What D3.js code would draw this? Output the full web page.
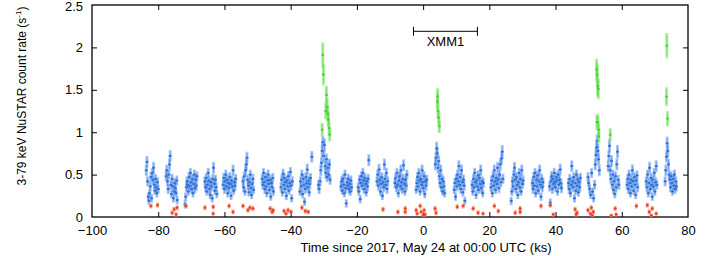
<!DOCTYPE html>
<html><head><meta charset="utf-8">
<script src="https://cdn.jsdelivr.net/npm/d3@7"></script>
<style>
html,body{margin:0;padding:0;background:#fff;}
svg{display:block;font-family:"Liberation Sans",Arial,sans-serif;}
</style></head>
<body><svg id="c" width="709" height="256"></svg>
<script>
// ---- data: [time (ks), rate (s^-1), error] ----
const xTicks = [-100,-80,-60,-40,-20,0,20,40,60,80];
const yTicks = [0,0.5,1,1.5,2,2.5];
const xmmInterval = [-2.9, 16.4];
const xmmLabel = "XMM1";
const xmmLevel = 2.19;

const blue = [
[-83.6,0.55,.07],[-83.4,0.65,.07],[-83.2,0.42,.06],[-83.0,0.24,.05],[-82.8,0.19,.05],[-82.6,0.28,.05],[-82.4,0.36,.06],[-82.2,0.47,.06],[-82.0,0.22,.05],[-81.8,0.52,.06],[-81.6,0.44,.06],[-81.4,0.58,.07],[-81.2,0.38,.06],[-81.0,0.31,.05],[-80.8,0.45,.06],[-80.6,0.35,.06],[-80.4,0.28,.05],[-80.2,0.41,.06],[-80.0,0.33,.05],
[-77.6,0.48,.06],[-77.4,0.55,.07],[-77.2,0.42,.06],[-77.0,0.33,.06],[-76.8,0.5,.06],[-76.6,0.62,.07],[-76.4,0.72,.07],[-76.2,0.38,.06],[-76.0,0.27,.05],[-75.8,0.45,.06],[-75.6,0.36,.06],[-75.4,0.22,.05],[-75.2,0.3,.05],[-75.0,0.4,.06],[-74.8,0.34,.06],[-74.6,0.28,.05],[-74.4,0.43,.06],[-74.3,0.2,.05],
[-71.9,0.15,.05],[-71.7,0.24,.05],[-71.5,0.35,.06],[-71.3,0.42,.06],[-71.1,0.38,.06],[-70.9,0.3,.05],[-70.7,0.47,.06],[-70.5,0.36,.06],[-70.3,0.52,.06],[-70.1,0.41,.06],[-69.9,0.33,.06],[-69.7,0.45,.06],[-69.5,0.28,.05],[-69.3,0.39,.06],[-69.1,0.5,.06],[-68.9,0.34,.06],[-68.7,0.44,.06],[-68.5,0.37,.06],[-68.3,0.48,.06],
[-65.9,0.42,.06],[-65.7,0.35,.06],[-65.5,0.46,.06],[-65.3,0.3,.05],[-65.1,0.38,.06],[-64.9,0.52,.06],[-64.7,0.43,.06],[-64.5,0.33,.06],[-64.3,0.26,.05],[-64.1,0.41,.06],[-63.9,0.36,.06],[-63.7,0.22,.05],[-63.5,0.45,.06],[-63.3,0.58,.07],[-63.1,0.39,.06],[-62.9,0.31,.05],[-62.7,0.44,.06],[-62.5,0.35,.06],[-62.3,0.27,.05],
[-60.4,0.38,.06],[-60.2,0.46,.06],[-60.0,0.33,.06],[-59.8,0.42,.06],[-59.6,0.5,.06],[-59.4,0.36,.06],[-59.2,0.44,.06],[-59.0,0.28,.05],[-58.8,0.4,.06],[-58.6,0.34,.06],[-58.4,0.47,.06],[-58.2,0.39,.06],[-58.0,0.25,.05],[-57.8,0.43,.06],[-57.6,0.36,.06],[-57.4,0.55,.07],[-57.2,0.31,.05],[-57.0,0.41,.06],[-56.8,0.37,.06],[-56.6,0.45,.06],
[-54.4,0.42,.06],[-54.2,0.35,.06],[-54.0,0.48,.06],[-53.8,0.3,.05],[-53.6,0.55,.07],[-53.4,0.62,.07],[-53.2,0.7,.07],[-53.0,0.44,.06],[-52.8,0.37,.06],[-52.6,0.29,.05],[-52.4,0.41,.06],[-52.2,0.5,.06],[-52.0,0.34,.06],[-51.8,0.26,.05],[-51.6,0.39,.06],[-51.4,0.45,.06],[-51.2,0.32,.05],
[-48.6,0.45,.06],[-48.4,0.38,.06],[-48.2,0.52,.06],[-48.0,0.41,.06],[-47.8,0.33,.06],[-47.6,0.47,.06],[-47.4,0.36,.06],[-47.2,0.28,.05],[-47.0,0.43,.06],[-46.8,0.5,.06],[-46.6,0.39,.06],[-46.4,0.32,.05],[-46.2,0.44,.06],[-46.0,0.24,.05],[-45.8,0.4,.06],[-45.6,0.35,.06],[-45.4,0.46,.06],[-45.2,0.3,.05],
[-42.9,0.35,.06],[-42.7,0.44,.06],[-42.5,0.29,.05],[-42.3,0.51,.06],[-42.1,0.38,.06],[-41.9,0.46,.06],[-41.7,0.33,.06],[-41.5,0.41,.06],[-41.3,0.25,.05],[-41.1,0.43,.06],[-40.9,0.36,.06],[-40.7,0.48,.06],[-40.5,0.31,.05],[-40.3,0.4,.06],[-40.1,0.53,.06],[-39.9,0.37,.06],[-39.7,0.22,.05],[-39.5,0.42,.06],
[-37.2,0.3,.05],[-37.0,0.42,.06],[-36.8,0.36,.06],[-36.6,0.5,.06],[-36.4,0.27,.05],[-36.2,0.45,.06],[-36.0,0.38,.06],[-35.8,0.18,.05],[-35.6,0.33,.06],[-35.4,0.47,.06],[-35.2,0.4,.06],[-35.0,0.56,.07],[-34.8,0.35,.06],[-34.6,0.43,.06],[-34.4,0.29,.05],[-34.2,0.39,.06],[-34.0,0.46,.06],[-33.6,0.71,.07],
[-31.6,0.38,.06],[-31.4,0.33,.06],[-31.1,0.42,.06],[-30.9,0.55,.07],[-30.7,0.64,.07],[-30.5,0.78,.08],[-30.3,0.88,.08],[-30.0,0.72,.08],[-29.8,0.85,.08],[-29.6,0.6,.07],[-29.4,0.52,.07],[-29.2,0.68,.07],[-29.0,0.47,.06],[-28.8,0.58,.07],[-28.5,0.5,.06],[-28.3,0.62,.07],[-28.1,0.44,.06],
[-24.8,0.36,.06],[-24.6,0.42,.06],[-24.4,0.31,.05],[-24.2,0.45,.06],[-24.0,0.38,.06],[-23.8,0.28,.05],[-23.6,0.5,.06],[-23.4,0.34,.06],[-23.2,0.16,.05],[-23.0,0.41,.06],[-22.8,0.37,.06],[-22.6,0.45,.06],[-22.4,0.33,.06],[-22.2,0.39,.06],[-22.0,0.3,.05],[-21.8,0.43,.06],[-21.6,0.35,.06],
[-19.6,0.35,.06],[-19.4,0.3,.05],[-19.2,0.44,.06],[-19.0,0.21,.05],[-18.8,0.4,.06],[-18.6,0.48,.06],[-18.4,0.37,.06],[-18.2,0.52,.06],[-18.0,0.43,.06],[-17.8,0.33,.06],[-17.6,0.46,.06],[-17.4,0.39,.06],[-17.2,0.29,.05],[-17.0,0.42,.06],[-16.8,0.36,.06],[-16.6,0.45,.06],[-16.4,0.67,.07],
[-13.9,0.42,.06],[-13.7,0.5,.06],[-13.5,0.37,.06],[-13.3,0.56,.07],[-13.1,0.44,.06],[-12.9,0.3,.05],[-12.7,0.39,.06],[-12.5,0.47,.06],[-12.3,0.25,.05],[-12.1,0.41,.06],[-11.9,0.35,.06],[-11.7,0.62,.07],[-11.5,0.45,.06],[-11.3,0.38,.06],[-11.1,0.52,.06],[-10.9,0.33,.06],[-10.7,0.42,.06],
[-8.5,0.4,.06],[-8.3,0.46,.06],[-8.1,0.35,.06],[-7.9,0.52,.06],[-7.7,0.38,.06],[-7.5,0.28,.05],[-7.3,0.43,.06],[-7.1,0.48,.06],[-6.9,0.36,.06],[-6.7,0.55,.07],[-6.5,0.41,.06],[-6.3,0.33,.06],[-6.1,0.45,.06],[-5.9,0.61,.07],[-5.7,0.39,.06],[-5.5,0.3,.05],[-5.3,0.44,.06],[-5.1,0.37,.06],[-4.9,0.5,.06],
[-2.1,0.32,.05],[-1.9,0.4,.06],[-1.7,0.47,.06],[-1.5,0.36,.06],[-1.3,0.52,.06],[-1.1,0.43,.06],[-0.9,0.3,.05],[-0.7,0.45,.06],[-0.5,0.38,.06],[-0.3,0.55,.07],[-0.1,0.41,.06],[0.1,0.34,.06],[0.3,0.48,.06],[0.5,0.27,.05],[0.7,0.42,.06],[0.9,0.37,.06],[1.1,0.44,.06],
[3.7,0.62,.07],[3.9,0.7,.07],[4.1,0.81,.08],[4.3,0.75,.07],[4.5,0.58,.07],[4.7,0.66,.07],[4.9,0.48,.06],[5.1,0.4,.06],[5.3,0.55,.07],[5.5,0.35,.06],[5.7,0.45,.06],[5.9,0.3,.05],[6.1,0.42,.06],[6.3,0.36,.06],[6.5,0.28,.05],
[9.4,0.32,.05],[9.6,0.4,.06],[9.8,0.24,.05],[10.0,0.45,.06],[10.2,0.36,.06],[10.4,0.5,.06],[10.6,0.42,.06],[10.8,0.6,.07],[11.0,0.38,.06],[11.2,0.47,.06],[11.4,0.33,.06],[11.6,0.55,.07],[11.8,0.41,.06],[12.0,0.29,.05],[12.2,0.44,.06],[12.4,0.37,.06],[12.6,0.19,.05],
[14.8,0.38,.06],[15.0,0.3,.05],[15.2,0.45,.06],[15.4,0.35,.06],[15.6,0.52,.06],[15.8,0.41,.06],[16.0,0.26,.05],[16.2,0.43,.06],[16.4,0.36,.06],[16.6,0.49,.06],[16.8,0.32,.05],[17.0,0.46,.06],[17.2,0.39,.06],[17.4,0.55,.07],[17.6,0.34,.06],[17.8,0.42,.06],[18.0,0.28,.05],[18.2,0.4,.06],
[20.5,0.35,.06],[20.7,0.43,.06],[20.9,0.28,.05],[21.1,0.48,.06],[21.3,0.37,.06],[21.5,0.55,.07],[21.7,0.42,.06],[21.9,0.32,.05],[22.1,0.46,.06],[22.3,0.39,.06],[22.5,0.58,.07],[22.7,0.44,.06],[22.9,0.34,.06],[23.1,0.5,.06],[23.3,0.62,.07],[23.5,0.41,.06],[23.7,0.69,.07],[23.9,0.77,.08],[24.1,0.45,.06],
[26.6,0.19,.05],[26.8,0.3,.05],[27.0,0.42,.06],[27.2,0.36,.06],[27.4,0.5,.06],[27.6,0.58,.07],[27.8,0.44,.06],[28.0,0.33,.06],[28.2,0.47,.06],[28.4,0.38,.06],[28.6,0.26,.05],[28.8,0.41,.06],[29.0,0.52,.06],[29.2,0.35,.06],[29.4,0.45,.06],[29.6,0.3,.05],[29.8,0.55,.07],[30.0,0.39,.06],[30.2,0.43,.06],
[33.0,0.4,.06],[33.2,0.33,.06],[33.4,0.47,.06],[33.6,0.37,.06],[33.8,0.52,.06],[34.0,0.28,.05],[34.2,0.44,.06],[34.4,0.36,.06],[34.6,0.49,.06],[34.8,0.31,.05],[35.0,0.42,.06],[35.2,0.55,.07],[35.4,0.38,.06],[35.6,0.24,.05],[35.8,0.45,.06],[36.0,0.35,.06],[36.2,0.41,.06],
[38.2,0.36,.06],[38.4,0.17,.05],[38.6,0.42,.06],[38.8,0.48,.06],[39.0,0.33,.06],[39.2,0.45,.06],[39.4,0.39,.06],[39.6,0.52,.06],[39.8,0.41,.06],[40.0,0.35,.06],[40.2,0.47,.06],[40.4,0.43,.06],[40.6,0.3,.05],[40.8,0.5,.06],[41.0,0.38,.06],[41.2,0.44,.06],[41.4,0.56,.07],[41.6,0.4,.06],[41.8,0.34,.06],
[43.9,0.4,.06],[44.1,0.33,.06],[44.3,0.45,.06],[44.5,0.28,.05],[44.7,0.38,.06],[44.9,0.6,.07],[45.1,0.42,.06],[45.3,0.35,.06],[45.5,0.47,.06],[45.7,0.22,.05],[45.9,0.4,.06],[46.1,0.31,.05],[46.3,0.5,.06],[46.5,0.37,.06],[46.7,0.44,.06],[46.9,0.29,.05],[47.1,0.41,.06],[47.3,0.35,.06],[47.5,0.46,.06],
[49.8,0.47,.06],[50.0,0.4,.06],[50.3,0.33,.06],[50.6,0.26,.05],[50.9,0.52,.06],[51.2,0.3,.05],[51.5,0.22,.05],[51.8,0.38,.06],[52.0,0.62,.07],[52.2,0.73,.08],[52.4,0.82,.08],[52.6,0.9,.08],[52.8,0.78,.08],[53.0,0.68,.07],[53.2,0.55,.07],
[55.9,0.6,.07],[56.1,0.72,.07],[56.3,0.84,.08],[56.5,0.55,.07],[56.7,0.45,.06],[56.9,0.66,.07],[57.1,0.38,.06],[57.3,0.5,.06],[57.5,0.32,.05],[57.7,0.42,.06],[57.9,0.27,.05],[58.1,0.48,.06],[58.3,0.35,.06],[58.5,0.62,.07],[58.7,0.77,.08],[58.9,0.44,.06],[59.1,0.38,.06],
[61.6,0.38,.06],[61.8,0.45,.06],[62.0,0.33,.06],[62.2,0.5,.06],[62.4,0.4,.06],[62.6,0.28,.05],[62.8,0.44,.06],[63.0,0.36,.06],[63.2,0.55,.07],[63.4,0.42,.06],[63.6,0.31,.05],[63.8,0.47,.06],[64.0,0.38,.06],[64.2,0.26,.05],[64.4,0.43,.06],[64.6,0.49,.06],[64.8,0.35,.06],
[67.4,0.42,.06],[67.6,0.35,.06],[67.8,0.5,.06],[68.0,0.28,.05],[68.2,0.4,.06],[68.4,0.58,.07],[68.6,0.33,.06],[68.8,0.46,.06],[69.0,0.38,.06],[69.2,0.24,.05],[69.4,0.44,.06],[69.6,0.36,.06],[69.8,0.52,.06],[70.0,0.3,.05],[70.2,0.41,.06],[70.4,0.6,.07],[70.6,0.38,.06],
[73.1,0.42,.06],[73.3,0.55,.07],[73.5,0.71,.07],[73.7,0.87,.08],[73.9,0.78,.08],[74.1,0.62,.07],[74.3,0.5,.06],[74.5,0.44,.06],[74.7,0.35,.06],[74.9,0.48,.06],[75.1,0.4,.06],[75.3,0.3,.05],[75.5,0.45,.06],[75.7,0.37,.06],[75.9,0.5,.06],[76.1,0.33,.06],[76.3,0.42,.06],[76.5,0.36,.06]
];

const red = [
[-82.2,0.13,.03],[-80.2,0.14,.03],[-75.8,0.05,.03],[-75.2,0.09,.03],[-74.6,0.03,.025],[-74.3,0.11,.03],[-71.6,0.13,.03],
[-65.9,0.11,.03],[-63.4,0.12,.03],[-63.4,0.04,.025],[-58.6,0.13,.03],[-57.4,0.06,.03],[-54.4,0.13,.03],[-52.9,0.08,.03],
[-52.3,0.11,.03],[-51.4,0.1,.03],[-46.2,0.1,.03],[-45.6,0.06,.03],[-45.3,0.08,.03],[-42.0,0.07,.03],[-41.4,0.04,.025],
[-40.8,0.08,.03],[-39.9,0.06,.03],[-36.6,0.11,.03],[-35.6,0.07,.03],[-34.7,0.06,.03],
[-12.1,0.09,.03],[-7.6,0.06,.03],[-5.4,0.1,.03],[-5.4,0.06,.03],[-2.1,0.08,.03],[-1.8,0.04,.025],[-0.9,0.13,.03],
[-0.6,0.06,.03],[0.0,0.02,.02],[0.3,0.08,.03],[0.6,0.03,.025],[3.6,0.1,.03],[3.9,0.05,.03],[10.3,0.12,.03],[12.1,0.13,.03],
[15.1,0.1,.03],[16.6,0.05,.03],[18.1,0.04,.025],[21.5,0.13,.03],[22.7,0.07,.03],[27.8,0.05,.03],[29.3,0.1,.03],[29.3,0.06,.03],
[35.6,0.13,.03],[38.4,0.14,.03],[39.3,0.03,.025],[45.9,0.09,.03],[46.5,0.05,.03],[46.2,0.03,.025],[49.8,0.08,.03],[50.5,0.04,.025],
[50.8,0.11,.03],[51.1,0.02,.02],[51.4,0.06,.03],[56.8,0.02,.02],[58.0,0.1,.03],[58.3,0.03,.025],[64.4,0.13,.03],
[67.7,0.14,.03],[68.3,0.06,.03],[68.9,0.02,.02],[69.2,0.1,.03],[70.4,0.04,.025]
];

const green = [
[-30.5,1.03,.08],[-30.3,1.91,.15],[-30.1,1.68,.13],[-29.4,1.25,.1],[-29.2,1.44,.11],[-29.0,1.3,.1],[-28.8,1.22,.1],
[-28.6,1.15,.09],[-28.4,1.05,.09],[-28.2,0.97,.08],
[4.3,1.36,.1],[4.4,1.42,.1],[4.5,1.25,.09],[4.7,1.17,.09],[4.9,1.07,.08],
[52.4,1.74,.13],[52.6,1.68,.13],[52.7,1.54,.12],[52.9,1.51,.12],[52.5,1.12,.09],[52.8,1.12,.09],[53.0,1.03,.08],[53.1,0.95,.08],
[56.5,0.97,.08],
[73.6,2.02,.15],[73.5,1.42,.11],[73.8,1.16,.09]
];

// ---- layout ----
const M = {l:92, r:688, t:5, b:217};
const svg = d3.select("#c");
const x = d3.scaleLinear().domain([-100,80]).range([M.l, M.r]);
const y = d3.scaleLinear().domain([0,2.5]).range([M.b, M.t]);
const TL = 5;

const gx = svg.append("g").attr("transform",`translate(0,${M.b})`)
  .call(d3.axisBottom(x).tickValues(xTicks).tickSize(-TL).tickPadding(9).tickFormat(d3.format("d")));
const gxt = svg.append("g").attr("transform",`translate(0,${M.t})`)
  .call(d3.axisTop(x).tickValues(xTicks).tickSize(-TL).tickFormat(""));
const gy = svg.append("g").attr("transform",`translate(${M.l},0)`)
  .call(d3.axisLeft(y).tickValues(yTicks).tickSize(-TL).tickPadding(9).tickFormat(d=>String(d)));
const gyr = svg.append("g").attr("transform",`translate(${M.r},0)`)
  .call(d3.axisRight(y).tickValues(yTicks).tickSize(-TL).tickFormat(""));
[gx,gxt,gy,gyr].forEach(g=>{
  g.select(".domain").remove();
  g.selectAll(".tick line").attr("stroke","#000").attr("stroke-width",1);
  g.selectAll("text").attr("fill","#000").style("font-size","13px").style("font-family","'Liberation Sans',Arial,sans-serif");
});
gy.selectAll(".tick").filter(d=>d===2.5).select("text").attr("dy","0.42em");
gx.selectAll(".tick").filter(d=>d===-100||d===80).select("line").remove();
gxt.selectAll(".tick").filter(d=>d===-100||d===80).select("line").remove();
gy.selectAll(".tick").filter(d=>d===0||d===2.5).select("line").remove();
gyr.selectAll(".tick").filter(d=>d===0||d===2.5).select("line").remove();

svg.append("rect").attr("x",M.l).attr("y",M.t).attr("width",M.r-M.l).attr("height",M.b-M.t)
  .attr("fill","none").attr("stroke","#000").attr("stroke-width",1.3);

function drawSeries(data, dark, light, hw){
  const g = svg.append("g");
  g.selectAll("line.v").data(data).join("line")
    .attr("x1",d=>x(d[0])).attr("x2",d=>x(d[0]))
    .attr("y1",d=>y(d[1]-d[2])).attr("y2",d=>y(d[1]+d[2]))
    .attr("stroke",light).attr("stroke-width",3).attr("stroke-opacity",0.7);
  g.selectAll("line.c").data(data).join("line")
    .attr("x1",d=>x(d[0])).attr("x2",d=>x(d[0]))
    .attr("y1",d=>y(d[1]-d[2]*0.8)).attr("y2",d=>y(d[1]+d[2]*0.8))
    .attr("stroke",dark).attr("stroke-width",0.8).attr("stroke-opacity",0.6);
  g.selectAll("line.h").data(data).join("line")
    .attr("x1",d=>x(d[0]-hw)).attr("x2",d=>x(d[0]+hw))
    .attr("y1",d=>y(d[1])).attr("y2",d=>y(d[1]))
    .attr("stroke",dark).attr("stroke-width",1.2);
  g.selectAll("rect").data(data).join("rect")
    .attr("x",d=>x(d[0])-1).attr("y",d=>y(d[1])-1).attr("width",2).attr("height",2)
    .attr("fill",dark);
}
drawSeries(blue, "#2a6fdc", "#8db4ee", 0.45);
drawSeries(red, "#ee3e1e", "#f4917a", 0.45);
drawSeries(green, "#3fd42a", "#8fe87c", 0.35);

const xm = svg.append("g");
xm.append("line").attr("x1",x(xmmInterval[0])).attr("x2",x(xmmInterval[1]))
  .attr("y1",y(xmmLevel)).attr("y2",y(xmmLevel)).attr("stroke","#000").attr("stroke-width",1);
xmmInterval.forEach(v=>{
  xm.append("line").attr("x1",x(v)).attr("x2",x(v))
    .attr("y1",y(xmmLevel)-4.5).attr("y2",y(xmmLevel)+4.5).attr("stroke","#000").attr("stroke-width",1);
});
xm.append("text").attr("x",x((xmmInterval[0]+xmmInterval[1])/2)).attr("y",y(xmmLevel)+15)
  .attr("text-anchor","middle").style("font-size","13px").text(xmmLabel);

svg.append("text").attr("x",426).attr("y",252).attr("text-anchor","middle")
  .style("font-size","13px").text("Time since 2017, May 24 at 00:00 UTC (ks)");
const yt = svg.append("text").attr("transform","translate(26,96) rotate(-90)")
  .attr("text-anchor","middle").style("font-size","12px");
yt.append("tspan").text("3-79 keV NuSTAR count rate (s");
yt.append("tspan").attr("dy",-5).style("font-size","8px").text("-1");
yt.append("tspan").attr("dy",5).text(")");
</script></body></html>
